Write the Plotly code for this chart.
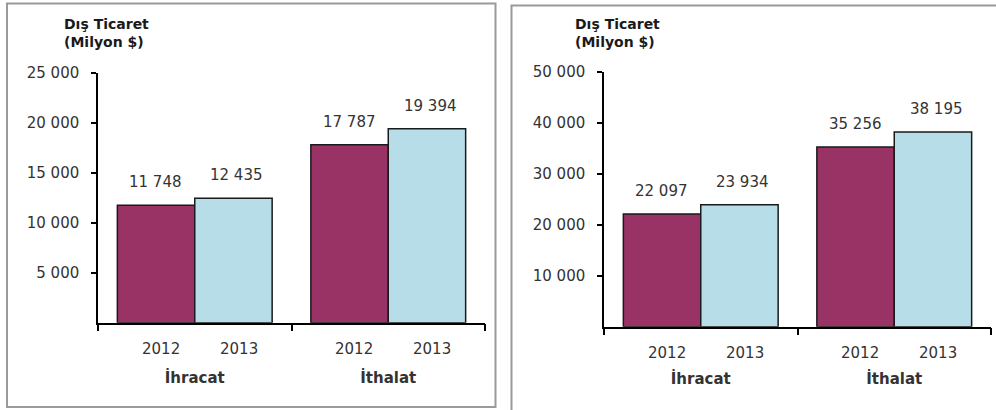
import plotly.graph_objects as go

# ---- data ----
groups = ["İhracat", "İthalat"]
years = ["2012", "2013"]
left_2012 = [11748, 17787]
left_2013 = [12435, 19394]
right_2012 = [22097, 35256]
right_2013 = [23934, 38195]
left_ticks = [5000, 10000, 15000, 20000, 25000]
right_ticks = [10000, 20000, 30000, 40000, 50000]
title_text = "Dış Ticaret<br>(Milyon $)"

W, H = 996, 410
FONT = "DejaVu Sans"
C2012 = "#993366"
C2013 = "#B7DDE8"
TXT = "#333333"

def px_x(p):
    return p / W

def px_y(p):
    return 1 - p / H

fig = go.Figure()

panels = [
    dict(x="x", y="y", v12=left_2012, v13=left_2013, ticks=left_ticks,
         xd=(98, 485), yd=(322.7, 72.7), title_x=62, standoff=41),
    dict(x="x2", y="y2", v12=right_2012, v13=right_2013, ticks=right_ticks,
         xd=(604, 991), yd=(326.7, 71.7), title_x=573, standoff=38),
]

for p in panels:
    for yr, vals, col in ((years[0], p["v12"], C2012), (years[1], p["v13"], C2013)):
        fig.add_trace(go.Bar(
            x=groups, y=vals, name=yr, xaxis=p["x"], yaxis=p["y"],
            marker=dict(color=col, line=dict(color="#1a1a1a", width=1.5)),
            showlegend=False, hoverinfo="skip",
        ))

layout = dict(
    width=W, height=H, margin=dict(l=0, r=0, t=0, b=0, pad=0, autoexpand=False),
    paper_bgcolor="white", plot_bgcolor="white",
    barmode="group", bargap=0.2, bargroupgap=0,
    separators=", ", showlegend=False,
    font=dict(family=FONT, size=15, color=TXT),
)

annotations = []
shapes = []
for i, p in enumerate(panels):
    xn = "xaxis" if i == 0 else "xaxis2"
    yn = "yaxis" if i == 0 else "yaxis2"
    xo = "xaxis3" if i == 0 else "xaxis4"
    yo = "yaxis3" if i == 0 else "yaxis4"
    xdom = [px_x(p["xd"][0]), px_x(p["xd"][1])]
    ydom = [px_y(p["yd"][0]), px_y(p["yd"][1])]
    top = p["ticks"][-1]
    layout[xn] = dict(
        domain=xdom, anchor=p["y"], type="category", categoryarray=groups,
        range=[-0.5, 1.5], showline=True, linecolor="black", linewidth=1.5,
        ticks="outside", tickson="boundaries", ticklen=7, tickwidth=1.5, tickcolor="black",
        tickvals=groups, ticktext=[f"<b>{g}</b>" for g in groups],
        tickfont=dict(family=FONT, size=15, color=TXT),
        ticklabelstandoff=p["standoff"], showgrid=False, zeroline=False, fixedrange=True,
    )
    layout[yn] = dict(
        domain=ydom, anchor=p["x"], range=[0, top], showline=True, linecolor="black",
        linewidth=1.5, ticks="outside", ticklen=5, tickwidth=1.5, tickcolor="black",
        tickvals=p["ticks"], tickformat=",d", showgrid=False, zeroline=False,
        tickfont=dict(family=FONT, size=15, color=TXT), ticklabelstandoff=9,
    )
    layout[xo] = dict(
        overlaying=p["x"], anchor=p["y"], range=[-0.5, 1.5], tickvals=[-0.5, 0.5, 1.5],
        ticks="inside", ticklen=6, tickwidth=1.5, tickcolor="black",
        showticklabels=False, showline=False, showgrid=False, zeroline=False,
    )
    layout[yo] = dict(
        overlaying=p["y"], anchor=p["x"], range=[0, top], tickvals=p["ticks"],
        ticks="inside", ticklen=7, tickwidth=1.5, tickcolor="black",
        showticklabels=False, showline=False, showgrid=False, zeroline=False,
    )
    for g_i, g in enumerate(groups):
        for yr, vals, dx, ydx in ((years[0], p["v12"], -39, -34), (years[1], p["v13"], 42, 44)):
            v = vals[g_i]
            annotations.append(dict(
                x=g, y=v, xref=p["x"], yref=p["y"], xshift=dx, yshift=23,
                text=f"{v:,}".replace(",", " "), showarrow=False,
                font=dict(family=FONT, size=15, color=TXT), yanchor="middle",
            ))
            annotations.append(dict(
                x=g, y=0, xref=p["x"], yref=p["y"], xshift=ydx, yshift=-26,
                text=yr, showarrow=False,
                font=dict(family=FONT, size=15, color=TXT), yanchor="middle",
            ))
    annotations.append(dict(
        x=px_x(p["title_x"]), y=px_y(14), xref="paper", yref="paper",
        xanchor="left", yanchor="top", align="left", showarrow=False,
        text=f"<b>{title_text}</b>", font=dict(family=FONT, size=14, color="#1a1a1a"),
    ))

shapes.append(dict(type="rect", xref="paper", yref="paper",
                   x0=px_x(7), x1=px_x(495.5), y0=px_y(407), y1=px_y(3.5),
                   line=dict(color="#9a9a9a", width=2), fillcolor="rgba(0,0,0,0)", layer="below"))
shapes.append(dict(type="rect", xref="paper", yref="paper",
                   x0=px_x(511.5), x1=px_x(1000), y0=px_y(414), y1=px_y(5.5),
                   line=dict(color="#9a9a9a", width=2), fillcolor="rgba(0,0,0,0)", layer="below"))

layout["annotations"] = annotations
layout["shapes"] = shapes
fig.update_layout(**layout)

page_fix = (
    "document.documentElement.style.margin='0';"
    "document.documentElement.style.overflow='hidden';"
    "document.body.style.margin='0';"
    "document.body.style.padding='0';"
    "document.body.style.overflow='hidden';"
    "var gd=document.getElementById('{plot_id}');"
    "gd.style.position='fixed';gd.style.top='0px';gd.style.left='0px';"
)
fig.write_html(
    "out.html",
    config={"displayModeBar": False},
    post_script=page_fix,
)
